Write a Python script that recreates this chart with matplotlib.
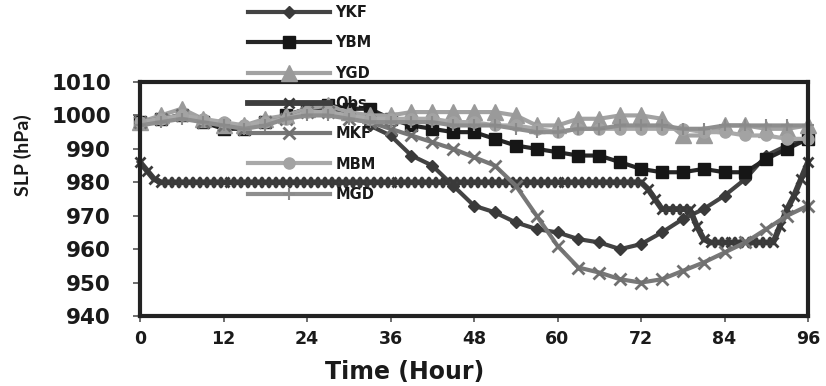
import matplotlib
matplotlib.use("Agg")
import matplotlib.pyplot as plt

# ---------------- data ----------------
hours3 = [0, 3, 6, 9, 12, 15, 18, 21, 24, 27, 30, 33, 36, 39, 42, 45, 48,
          51, 54, 57, 60, 63, 66, 69, 72, 75, 78, 81, 84, 87, 90, 93, 96]

ykf = [998, 999, 1000, 998, 997, 996, 998, 1000, 1002, 1002, 1001, 997, 994, 988, 985, 979, 973,
       971, 968, 966, 965, 963, 962, 960, 961.5, 965, 969, 972, 976, 981, 988, 991, 993]
ybm = [998, 999, 1000, 998, 996, 996, 998, 1000, 1002, 1003, 1002, 1002, 999, 997, 996, 995, 995,
       993, 991, 990, 989, 988, 988, 986, 984, 983, 983, 984, 983, 983, 987, 990, 993]
ygd = [998, 1000, 1002, 999, 997, 997, 999, 1000, 1002, 1003, 1001, 1000, 1000, 1001, 1001, 1001, 1001,
       1001, 1000, 997, 997, 999, 999, 1000, 1000, 999, 994, 994, 997, 997, 996, 996, 997]
mkf = [998, 999, 1000, 998, 997, 996, 998, 999, 1001, 1001, 999, 998, 996, 994, 992, 990, 987.5,
       985, 979, 970, 961, 954.5, 953, 951, 950, 951, 953.5, 956, 959, 962, 966, 970, 973]
mbm = [998, 999, 1000, 999, 998, 997, 998, 999, 1001, 1001, 1000, 999, 999, 999, 999, 998, 998,
       997, 997, 996, 995, 996, 996, 996, 996, 996, 996, 995, 995, 994, 994, 993, 993]
mgd = [997, 998, 999, 998, 997, 996, 997, 999, 1000, 1000, 999, 998, 998, 998, 998, 997, 997,
       997, 996, 995, 995, 996, 996, 997, 997, 997, 996, 996, 997, 997, 997, 997, 997]

hours1 = list(range(97))
obs = [986, 983.5, 981, 980, 980, 980, 980, 980, 980, 980,
       980, 980, 980, 980, 980, 980, 980, 980, 980, 980,
       980, 980, 980, 980, 980, 980, 980, 980, 980, 980,
       980, 980, 980, 980, 980, 980, 980, 980, 980, 980,
       980, 980, 980, 980, 980, 980, 980, 980, 980, 980,
       980, 980, 980, 980, 980, 980, 980, 980, 980, 980,
       980, 980, 980, 980, 980, 980, 980, 980, 980, 980,
       980, 980, 980, 978, 975, 972, 972, 972, 972, 972,
       967, 963, 962, 962, 962, 962, 962, 962, 962, 962,
       962, 962, 967, 972, 976, 981, 986]

xticks = [0, 12, 24, 36, 48, 60, 72, 84, 96]
yticks = [940, 950, 960, 970, 980, 990, 1000, 1010]

# ---------------- figure ----------------
fig = plt.figure(figsize=(8.26, 3.86), dpi=100)
ax = fig.add_axes([140/826, 1-316/386, 668/826, 234/386])

lw = 3.0
series = [
    ("YKF", hours3, ykf, dict(color="#434343", marker="D", ms=6, mfc="#3a3a3a", mec="#3a3a3a")),
    ("YBM", hours3, ybm, dict(color="#262626", marker="s", ms=9, mfc="#161616", mec="#161616")),
    ("YGD", hours3, ygd, dict(color="#a2a2a2", marker="^", ms=11, mfc="#9a9a9a", mec="#9a9a9a")),
    ("Obs", hours1, obs, dict(color="#3e3e3e", marker="x", ms=7, mew=2.0, mec="#3a3a3a", lw=4.2)),
    ("MKF", hours3, mkf, dict(color="#777777", marker="x", ms=8, mew=2.0, mec="#707070")),
    ("MBM", hours3, mbm, dict(color="#a9a9a9", marker="o", ms=8, mfc="#a3a3a3", mec="#a3a3a3")),
    ("MGD", hours3, mgd, dict(color="#8e8e8e", marker="+", ms=8, mew=1.5, mec="#8a8a8a")),
]
for name, xs, ys, kw in series:
    kw = dict(kw)
    lwv = kw.pop("lw", lw)
    ax.plot(xs, ys, label=name, lw=lwv, clip_on=False, **kw)

ax.set_xlim(0, 96)
ax.set_ylim(940, 1010)
ax.set_xticks(xticks)
ax.set_yticks(yticks)

for s in ax.spines.values():
    s.set_linewidth(3.0)
    s.set_color("#222222")
    s.set_zorder(5)

ax.tick_params(axis="y", direction="out", length=5, width=1.2, color="#555555", pad=16,
               labelsize=15.5, labelcolor="#1a1a1a")
ax.tick_params(axis="x", direction="out", length=4, width=1.2, color="#555555", pad=6,
               labelsize=12.5, labelcolor="#1a1a1a")
for lab in ax.get_xticklabels() + ax.get_yticklabels():
    lab.set_fontweight("bold")
    lab.set_family("DejaVu Sans")

ax.set_xlabel("Time (Hour)", fontsize=17, fontweight="bold", color="#1a1a1a", family="DejaVu Sans")
ax.xaxis.set_label_coords((405-140)/668, (316-360)/234)
ax.set_ylabel("SLP (hPa)", fontsize=14, fontweight="bold", color="#1a1a1a", family="Lato")
ax.yaxis.set_label_coords((32-140)/668, (316-155)/234)

leg = fig.legend(loc="upper left", bbox_to_anchor=(248/826, 1-5/386), frameon=False,
                 borderpad=0, borderaxespad=0, handlelength=5.6, handletextpad=0.4,
                 labelspacing=1.05, numpoints=1,
                 prop=dict(family="DejaVu Sans", weight="bold", size=10.5))
for t in leg.get_texts():
    t.set_color("#1a1a1a")
leg.set_zorder(10)

fig.savefig("out.png", dpi=100)
